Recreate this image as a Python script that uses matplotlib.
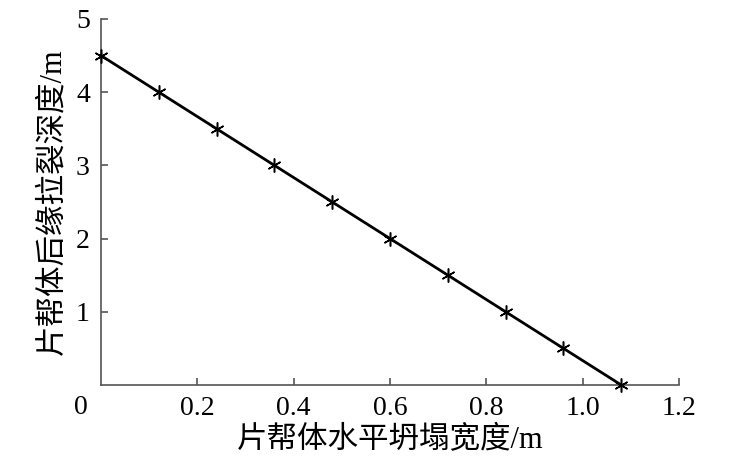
import matplotlib.pyplot as plt
import numpy as np

plt.rcParams['font.family'] = ['Liberation Serif', 'Noto Sans CJK SC']

# horizontal collapse width (m) vs depth of rear tensile crack (m)
width = [0.0, 0.12, 0.24, 0.36, 0.48, 0.60, 0.72, 0.84, 0.96, 1.08]
depth = [4.5, 4.0, 3.5, 3.0, 2.5, 2.0, 1.5, 1.0, 0.5, 0.0]

xticks = [0.2, 0.4, 0.6, 0.8, 1.0, 1.2]
xticklabels = ['0.2', '0.4', '0.6', '0.8', '1.0', '1.2']
yticks = [1, 2, 3, 4, 5]

fig = plt.figure(figsize=(7.31, 4.70), dpi=100)
ax = fig.add_axes([0.1382, 0.1809, 0.7907, 0.7787])

ax.plot(width, depth, color='black', linewidth=2.0,
        marker=(6, 2, 0), markersize=10, markeredgewidth=1.1,
        markeredgecolor='black', clip_on=False, zorder=3)

ax.set_xlim(0, 1.2)
ax.set_ylim(0, 5)
ax.set_xticks(xticks)
ax.set_xticklabels(xticklabels)
ax.set_yticks(yticks)

for s in ['top', 'right']:
    ax.spines[s].set_visible(False)
for s in ['left', 'bottom']:
    ax.spines[s].set_color('#555555')
    ax.spines[s].set_linewidth(1.2)

ax.tick_params(direction='in', length=5, width=1.2, color='#555555',
               labelsize=20, pad=8)

# shared origin label
ax.annotate('0', xy=(0, 0), xycoords='data', xytext=(-20, -23),
            textcoords='offset pixels', ha='center', va='center', fontsize=20)

ax.set_xlabel('片帮体水平坍塌宽度/m', fontsize=22, labelpad=4, fontweight='light')
ax.set_ylabel('片帮体后缘拉裂深度/m', fontsize=22, labelpad=6, fontweight='light')

fig.savefig('out.png', dpi=100)
